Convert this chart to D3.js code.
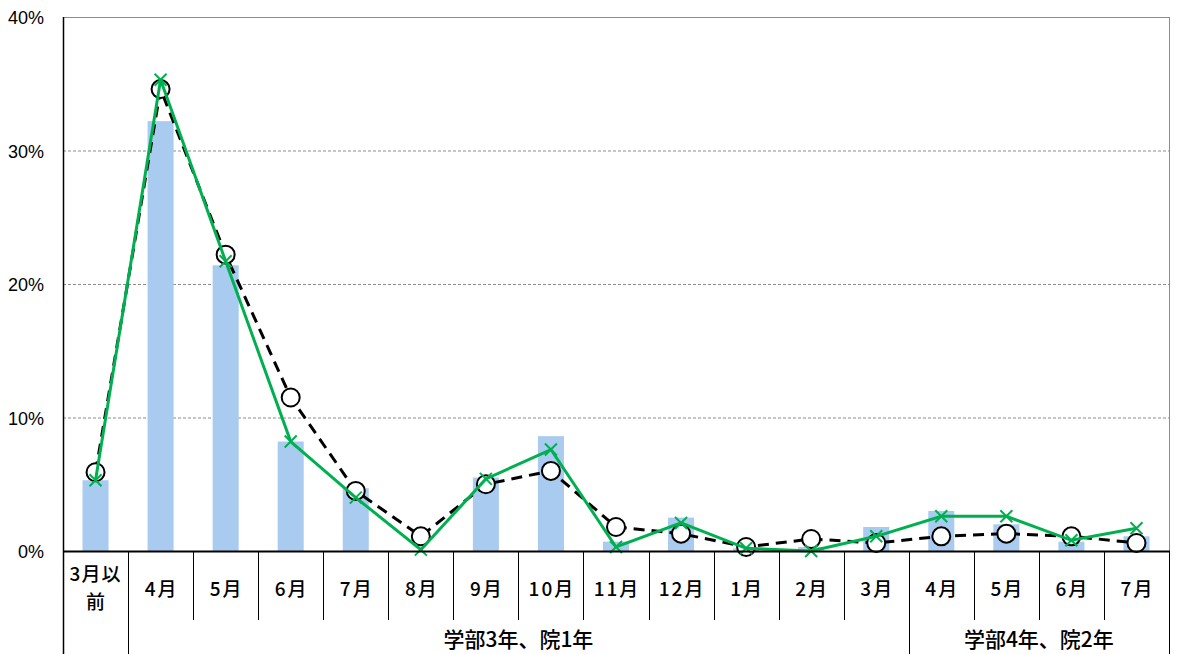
<!DOCTYPE html>
<html><head><meta charset="utf-8">
<script src="https://cdn.jsdelivr.net/npm/d3@7"></script>
<style>body{margin:0;background:#fff}svg{display:block}</style>
</head><body>
<svg id="c" width="1179" height="654"></svg>
<script>
const categories = ["3月以前","4月","5月","6月","7月","8月","9月","10月","11月","12月","1月","2月","3月","4月","5月","6月","7月"];
const barValues = [5.3,32.2,21.4,8.2,4.7,0,5.5,8.6,0.7,2.5,0.2,0.3,1.8,3.0,2.0,0.7,1.1];
const dashedValues = [5.9,34.6,22.2,11.5,4.5,1.1,5.0,6.0,1.8,1.3,0.3,0.9,0.6,1.1,1.3,1.1,0.6];
const greenValues = [5.3,35.3,21.7,8.2,4.0,0.1,5.4,7.6,0.3,2.1,0.2,0.0,1.1,2.6,2.6,0.8,1.7];
const yTicks = [0,10,20,30,40];
const groups = [{label:"学部3年、院1年", from:1, to:12},{label:"学部4年、院2年", from:13, to:16}];

const svg = d3.select("#c");
const L=63, R=1169, T=17, B=551;
const x = d3.scaleBand().domain(d3.range(categories.length)).range([L,R]);
const y = d3.scaleLinear().domain([0,40]).range([B,T]);
const cx = i => x(i)+x.bandwidth()/2;

// gridlines
svg.append("g").selectAll("line").data(yTicks.filter(t=>t>0&&t<40)).join("line")
  .attr("x1",L).attr("x2",R).attr("y1",d=>y(d)+0.5).attr("y2",d=>y(d)+0.5)
  .attr("stroke","#8c8c8c").attr("stroke-width",1).attr("stroke-dasharray","3,2");
// top & right border
svg.append("line").attr("x1",L).attr("x2",R).attr("y1",y(40)+0.5).attr("y2",y(40)+0.5).attr("stroke","#8c8c8c");
svg.append("line").attr("x1",R+0.5).attr("x2",R+0.5).attr("y1",T).attr("y2",B).attr("stroke","#8c8c8c");

// y labels
svg.append("g").selectAll("text").data(yTicks).join("text")
  .attr("x",44).attr("y",d=>y(d)+7).attr("text-anchor","end")
  .attr("font-family","Liberation Sans, Arial, sans-serif").attr("font-size",18).attr("fill","#000")
  .text(d=>d+"%");

// bars
const bw = x.bandwidth()*0.4;
svg.append("g").selectAll("rect").data(barValues).join("rect")
  .attr("x",(d,i)=>cx(i)-bw/2).attr("width",bw)
  .attr("y",d=>y(d)).attr("height",d=>B-y(d)).attr("fill","#A9CBEF");

// dashed line
const line = d3.line().x((d,i)=>cx(i)).y(d=>y(d));
svg.append("path").datum(dashedValues).attr("d",line).attr("fill","none")
  .attr("stroke","#000").attr("stroke-width",3).attr("stroke-dasharray","11,7");
svg.append("g").selectAll("circle").data(dashedValues).join("circle")
  .attr("cx",(d,i)=>cx(i)).attr("cy",d=>y(d)).attr("r",9)
  .attr("fill","#fff").attr("stroke","#000").attr("stroke-width",2);

// green line
svg.append("path").datum(greenValues).attr("d",line).attr("fill","none")
  .attr("stroke","#00B050").attr("stroke-width",3);
const m=6;
svg.append("g").selectAll("path").data(greenValues).join("path")
  .attr("d",(d,i)=>`M${cx(i)-m},${y(d)-m}L${cx(i)+m},${y(d)+m}M${cx(i)-m},${y(d)+m}L${cx(i)+m},${y(d)-m}`)
  .attr("stroke","#00B050").attr("stroke-width",2).attr("fill","none");

// axes lines
svg.append("line").attr("x1",L).attr("x2",R+1).attr("y1",B+0.5).attr("y2",B+0.5).attr("stroke","#000").attr("stroke-width",2);
svg.append("line").attr("x1",L+0.5).attr("x2",L+0.5).attr("y1",T).attr("y2",654).attr("stroke","#000").attr("stroke-width",1.5);

// category dividers
const boundaries = d3.range(1,categories.length+1);
const fullDiv = new Set([1,13,17]);
svg.append("g").selectAll("line").data(boundaries).join("line")
  .attr("x1",d=>Math.round(x(d-1)+x.bandwidth())+0.5).attr("x2",d=>Math.round(x(d-1)+x.bandwidth())+0.5)
  .attr("y1",B).attr("y2",d=>fullDiv.has(d)?654:620)
  .attr("stroke","#000").attr("stroke-width",1);

// category labels
const font = "'Noto Sans CJK JP', sans-serif";
const cat = svg.append("g").attr("font-family",font).attr("font-size",19).attr("font-weight",500).attr("fill","#000").attr("text-anchor","middle");
categories.forEach((c,i)=>{
  if(c==="3月以前"){
    cat.append("text").attr("x",cx(i)).attr("y",581).attr("letter-spacing",1).text("3月以");
    cat.append("text").attr("x",cx(i)).attr("y",609).text("前");
  } else {
    cat.append("text").attr("x",cx(i)+1).attr("y",596).attr("letter-spacing",2).text(c);
  }
});

// group labels
svg.append("g").selectAll("text").data(groups).join("text")
  .attr("x",d=>(x(d.from)+x(d.to)+x.bandwidth())/2).attr("y",647)
  .attr("text-anchor","middle").attr("font-family",font).attr("font-size",21).attr("font-weight",500).attr("fill","#000")
  .text(d=>d.label);
</script>
</body></html>
